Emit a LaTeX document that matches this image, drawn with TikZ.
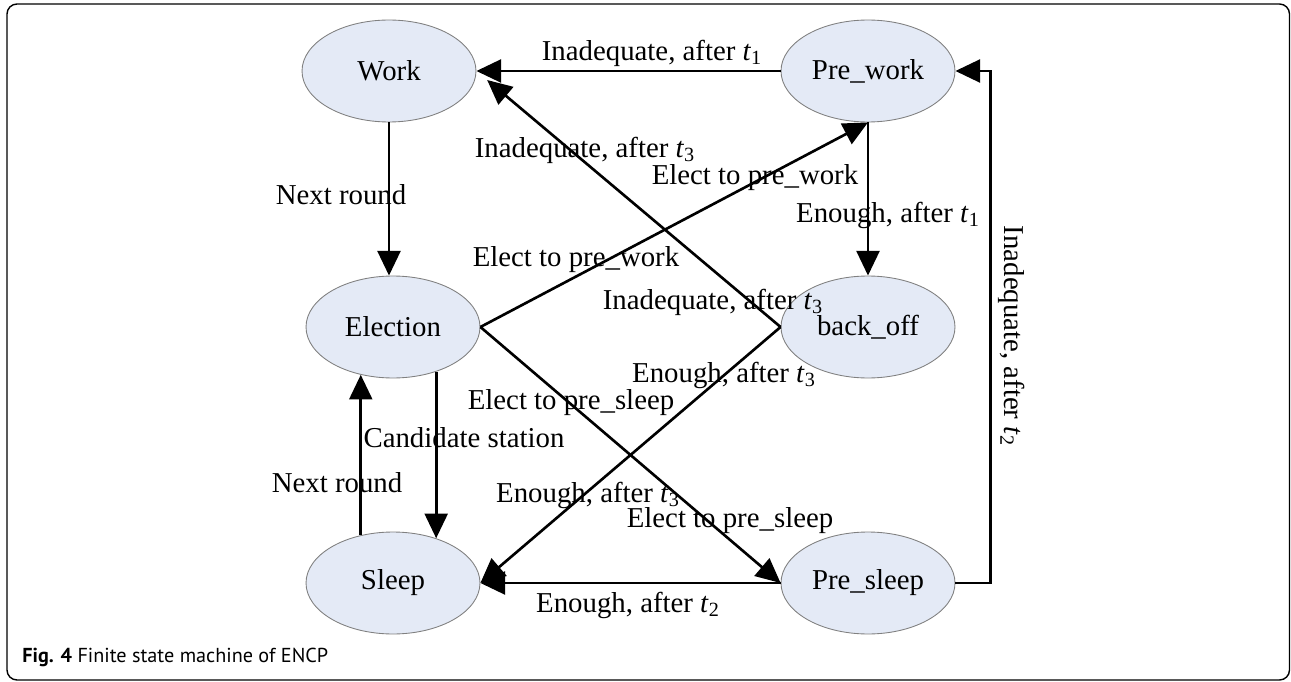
\documentclass[tikz,border=0pt]{standalone}
\usepackage{fontspec}
\setmainfont{Liberation Serif}
\newfontfamily\capfont{PT Sans}
\usetikzlibrary{arrows.meta,shapes.geometric}
\definecolor{statefill}{RGB}{228,234,246}
\newcommand{\tsub}[1]{\textit{t}\textsubscript{#1}}
\begin{document}
\begin{tikzpicture}[x=0.02cm, y=-0.02cm, >={Triangle[length=14pt,width=13pt]},
  state/.style={ellipse, draw=gray, line width=0.5pt, fill=statefill, minimum width=3.48cm, minimum height=2.04cm, inner sep=0pt, font=\fontsize{16.4}{19}\selectfont},
  lbl/.style={inner sep=0pt, font=\fontsize{16.4}{19}\selectfont},
  edge/.style={->, line width=1.5pt}]
\useasboundingbox (0,0) rectangle (1291,682);
\draw[line width=0.8pt, rounded corners=0.2cm] (7,4) rectangle (1289.5,680);
% states
\node[state] (work) at (389,71) {Work};
\node[state] (pw) at (868,71) {Pre\_work};
\node[state] (el) at (393,327) {Election};
\node[state] (bo) at (868,327) {back\_off};
\node[state] (sl) at (393,583) {Sleep};
\node[state] (ps) at (868,583) {Pre\_sleep};
% transitions
\draw[edge] (pw.west) -- (work.east);
\draw[edge, shorten >=14*0.02cm] (bo.west) -- (work.east);
\draw[edge] (work.south) -- (work.south |- el.north);
\draw[edge] (el.east) -- (pw.south);
\draw[edge] (pw.south) -- (bo.north);
\draw[edge] (el.-46) -- (sl.46);
\draw[edge] (sl.124) -- (el.-124);
\draw[edge] (el.east) -- (ps.west);
\draw[edge] (bo.west) -- (sl.east);
\draw[edge] (ps.west) -- (sl.east);
\draw[edge] (ps.east) -- ++(35,0) |- (pw.east);
% labels
\node[lbl] (l1) at (652,53) {Inadequate, after \tsub{1}};
\node[lbl] (l2) at (585,150) {Inadequate, after \tsub{3}};
\node[lbl] (l3) at (341,195) {Next round};
\node[lbl] (l4) at (755,178) {Elect to pre\_work};
\node[lbl] (l5) at (888,215) {Enough, after \tsub{1}};
\node[lbl] (l6) at (576,260) {Elect to pre\_work};
\node[lbl] (l7) at (713,302) {Inadequate, after \tsub{3}};
\node[lbl] (l8) at (724,375) {Enough, after \tsub{3}};
\node[lbl] (l9) at (571,403) {Elect to pre\_sleep};
\node[lbl] (l10) at (464,438) {Candidate station};
\node[lbl] (l11) at (337,483) {Next round};
\node[lbl] (l12) at (588,495) {Enough, after \tsub{3}};
\node[lbl] (l13) at (730,521) {Elect to pre\_sleep};
\node[lbl] (l14) at (628,605) {Enough, after \tsub{2}};
\node[lbl, rotate=-90] (l15) at (1012,336) {Inadequate, after \tsub{2}};
% caption
\node[anchor=west, inner sep=0pt, font=\capfont\fontsize{11.5}{13}\selectfont] (cap) at (22,657) {\textbf{Fig. 4} Finite state machine of ENCP};
\end{tikzpicture}
\end{document}
